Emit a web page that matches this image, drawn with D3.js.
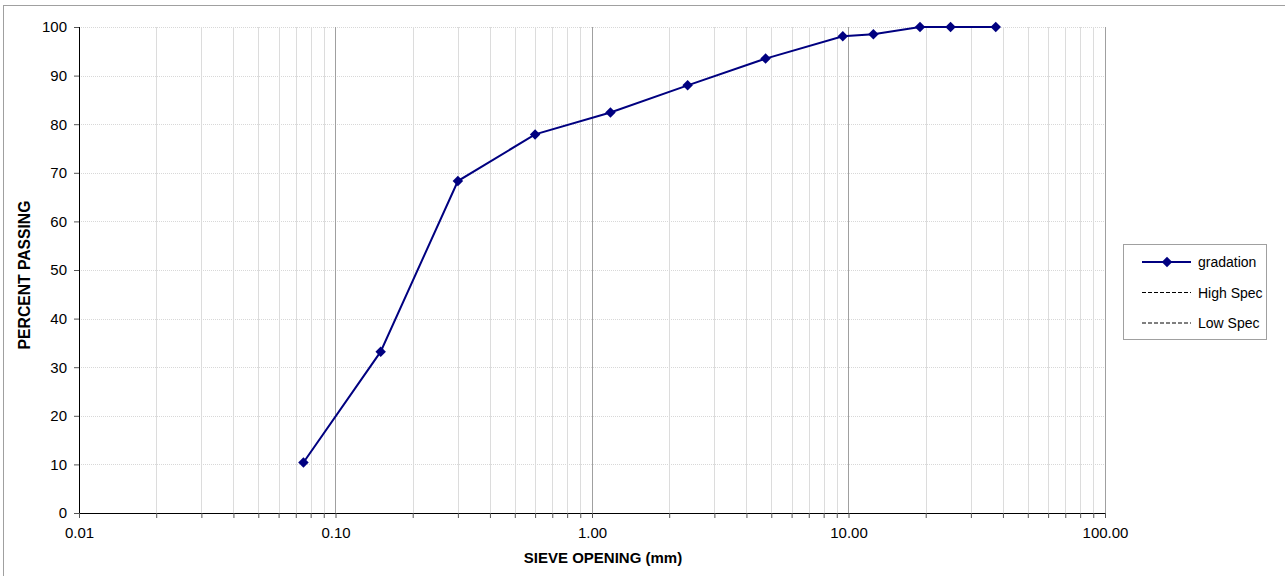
<!DOCTYPE html>
<html>
<head>
<meta charset="utf-8">
<script src="https://cdn.jsdelivr.net/npm/d3@7"></script>
<style>
  html, body { margin: 0; padding: 0; background: #fff; }
  svg { display: block; font-family: "Liberation Sans", Arial, sans-serif; }
  .axisTitle { font-weight: bold; font-size: 15px; fill: #000; }
  .tickLabel { font-size: 15px; fill: #000; }
  .legendText { font-size: 14px; fill: #000; }
</style>
</head>
<body>
<div id="chart"></div>
<script>
// sieve openings (mm) and percent passing
const sieves = [0.075, 0.15, 0.3, 0.6, 1.18, 2.36, 4.75, 9.5, 12.5, 19, 25, 37.5];
const passing = [10.4, 33.2, 68.3, 77.9, 82.4, 88.0, 93.5, 98.1, 98.5, 100, 100, 100];
const xTicks = [0.01, 0.1, 1, 10, 100];
const yTicks = [0, 10, 20, 30, 40, 50, 60, 70, 80, 90, 100];
const legendItems = ['gradation', 'High Spec', 'Low Spec'];

const width = 1285, height = 576;
const margin = {top: 27, right: 180, bottom: 63, left: 79};
const lineColor = '#000080';

const svg = d3.select('#chart').append('svg')
  .attr('width', width)
  .attr('height', height);

// outer chart frame
svg.append('rect')
  .attr('x', 3.5).attr('y', 5.5)
  .attr('width', 1290).attr('height', 600)
  .attr('fill', 'none')
  .attr('stroke', '#a0a0a0');

const x = d3.scaleLog()
  .domain([0.01, 100])
  .range([margin.left, width - margin.right]);

const y = d3.scaleLinear()
  .domain([0, 100])
  .range([height - margin.bottom, margin.top]);

// minor log positions 2..9 in each decade
const minor = [];
for (let e = -2; e < 2; e++) {
  for (let m = 2; m <= 9; m++) minor.push(m * Math.pow(10, e));
}

const grid = svg.append('g');

grid.selectAll('.hgrid')
  .data(yTicks.slice(1))
  .enter().append('line')
  .attr('x1', x(0.01)).attr('x2', x(100))
  .attr('y1', d => Math.round(y(d)) + 0.5)
  .attr('y2', d => Math.round(y(d)) + 0.5)
  .attr('stroke', '#d8d8d8')
  .attr('stroke-dasharray', '1,1');

grid.selectAll('.vminor')
  .data(minor)
  .enter().append('line')
  .attr('x1', d => Math.round(x(d)) + 0.5)
  .attr('x2', d => Math.round(x(d)) + 0.5)
  .attr('y1', y(0)).attr('y2', y(100))
  .attr('stroke', '#dcdcdc');

grid.selectAll('.vmajor')
  .data(xTicks.slice(1))
  .enter().append('line')
  .attr('x1', d => Math.round(x(d)) + 0.5)
  .attr('x2', d => Math.round(x(d)) + 0.5)
  .attr('y1', y(0)).attr('y2', y(100))
  .attr('stroke', '#a0a0a0');

// axes
const xAxis = d3.axisBottom(x)
  .tickValues(xTicks.concat(minor))
  .tickSize(5)
  .tickFormat(d => xTicks.includes(d) ? d.toFixed(2) : '');

svg.append('g')
  .attr('transform', `translate(0, ${y(0)})`)
  .call(xAxis)
  .call(g => g.select('.domain').attr('stroke', '#000').attr('d', `M${x(0.01)},0.5H${x(100)}`))
  .call(g => g.selectAll('.tick line').attr('stroke', '#555').attr('y1', 0))
  .call(g => g.selectAll('.tick text').attr('class', 'tickLabel').attr('y', 11).attr('dy', '0.9em').attr('font-size', null).attr('font-family', null));

const yAxis = d3.axisLeft(y)
  .tickValues(yTicks)
  .tickSize(5)
  .tickFormat(d3.format('d'));

svg.append('g')
  .attr('transform', `translate(${x(0.01)}, 0)`)
  .call(yAxis)
  .call(g => g.select('.domain').attr('stroke', '#000').attr('d', `M0.5,${y(0)}V${y(100)}`))
  .call(g => g.selectAll('.tick line').attr('stroke', '#555'))
  .call(g => g.selectAll('.tick text').attr('class', 'tickLabel').attr('x', -12).attr('font-size', null).attr('font-family', null));

// gradation curve
const data = sieves.map((s, i) => ({s: s, p: passing[i]}));

svg.append('path')
  .datum(data)
  .attr('fill', 'none')
  .attr('stroke', lineColor)
  .attr('stroke-width', 2)
  .attr('d', d3.line().x(d => x(d.s)).y(d => y(d.p)));

const diamond = d3.symbol().type(d3.symbolDiamond2).size(70);

svg.selectAll('.pt')
  .data(data)
  .enter().append('path')
  .attr('transform', d => `translate(${x(d.s)}, ${y(d.p)})`)
  .attr('d', diamond)
  .attr('fill', lineColor);

// axis titles
svg.append('text')
  .attr('class', 'axisTitle')
  .attr('text-anchor', 'middle')
  .style('font-size', '15.7px')
  .attr('transform', `translate(30, ${(y(0) + y(100)) / 2 + 5}) rotate(-90)`)
  .text('PERCENT PASSING');

svg.append('text')
  .attr('class', 'axisTitle')
  .attr('text-anchor', 'middle')
  .attr('x', 603)
  .attr('y', 563)
  .text('SIEVE OPENING (mm)');

// legend
const legend = svg.append('g').attr('transform', 'translate(1123, 244)');

legend.append('rect')
  .attr('x', 0.5).attr('y', 0.5)
  .attr('width', 143).attr('height', 95)
  .attr('fill', '#fff')
  .attr('stroke', '#a0a0a0');

const rows = legend.selectAll('.row')
  .data(legendItems)
  .enter().append('g')
  .attr('transform', (d, i) => `translate(0, ${18 + i * 30.5})`);

rows.append('line')
  .attr('x1', 19).attr('x2', 68)
  .attr('y1', 0).attr('y2', 0)
  .attr('stroke', (d, i) => i === 0 ? lineColor : '#000')
  .attr('stroke-width', (d, i) => i === 0 ? 2 : 1)
  .attr('stroke-dasharray', (d, i) => i === 0 ? null : '4,2');

rows.filter((d, i) => i === 0).append('path')
  .attr('transform', 'translate(44, 0)')
  .attr('d', diamond)
  .attr('fill', lineColor);

rows.append('text')
  .attr('class', 'legendText')
  .attr('x', 75)
  .attr('y', 5)
  .text(d => d);
</script>
</body>
</html>
